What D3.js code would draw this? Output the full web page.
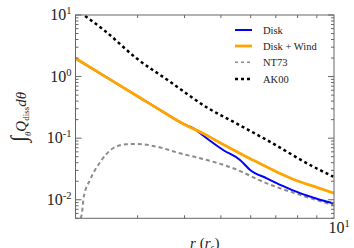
<!DOCTYPE html>
<html><head><meta charset="utf-8">
<script src="https://cdn.jsdelivr.net/npm/d3@7"></script>
<style>body{margin:0;background:#fff}svg{display:block}</style>
</head><body>
<svg id="c" width="354" height="248"></svg>
<script>
// ---- data ----
const xDomain = [2.05, 10];
const yDomain = [0.005, 10];
const diskR    = [2.05, 2.5, 3, 3.5, 4, 4.2, 4.6, 5.07, 5.62, 5.98, 6.62, 7.3, 8.12, 9, 9.96];
const diskV    = [1.98, 0.946, 0.479, 0.269, 0.167, 0.147, 0.098, 0.0643, 0.0443, 0.0305, 0.0223, 0.0168, 0.0128, 0.0104, 0.00877];
const windR    = [2.05, 2.5, 3, 3.5, 4, 4.5, 5, 6, 7, 8, 9, 10];
const windV    = [1.98, 0.946, 0.479, 0.269, 0.167, 0.118, 0.083, 0.0461, 0.0288, 0.0202, 0.0159, 0.0128];
const nt73R    = [2.113, 2.129, 2.157, 2.24, 2.39, 2.58, 2.80, 3.01, 3.37, 3.89, 4.59, 5.39, 6.62, 8.12, 9.96];
const nt73V    = [0.005, 0.00566, 0.0112, 0.0209, 0.0416, 0.0686, 0.0796, 0.0805, 0.0728, 0.0569, 0.0442, 0.0325, 0.0185, 0.0120, 0.00824];
const ak00R    = [2.05, 2.157, 2.44, 2.98, 3.66, 4.63, 5.39, 6.62, 8.81, 9.96];
const ak00V    = [12.6, 10, 5.70, 1.98, 0.826, 0.305, 0.185, 0.0936, 0.0344, 0.0237];
const legendLabels = ["Disk", "Disk + Wind", "NT73", "AK00"];
const yTickLabels = [["10","1"],["10","0"],["10","-1"],["10","-2"]];
const yTickValues = [10, 1, 0.1, 0.01];

const svg = d3.select("#c");
const L = 75.5, R = 334, T = 15, B = 218.3;
const x = d3.scaleLog().domain(xDomain).range([L, R]);
const y = d3.scaleLog().domain(yDomain).range([B, T]);
const serif = "'Liberation Serif', 'DejaVu Serif', serif";
const frameCol = "#666";

svg.append("defs").append("clipPath").attr("id","clip")
  .append("rect").attr("x",L).attr("y",T).attr("width",R-L).attr("height",B-T);

const line = d3.line().x(d=>x(d[0])).y(d=>y(d[1])).curve(d3.curveMonotoneX);
const g = svg.append("g").attr("clip-path","url(#clip)");
const series = [
  {r:nt73R, v:nt73V, color:"#8c8c8c", w:2, dash:"4,3"},
  {r:ak00R, v:ak00V, color:"#000", w:2.5, dash:"3,3"},
  {r:diskR, v:diskV, color:"#0000ff", w:2, dash:null},
  {r:windR, v:windV, color:"#ffa500", w:2.8, dash:null},
];
series.forEach(s=>{
  g.append("path").datum(s.r.map((r,i)=>[r,s.v[i]]))
   .attr("d",line).attr("fill","none").attr("stroke",s.color)
   .attr("stroke-width",s.w).attr("stroke-dasharray",s.dash);
});

// frame
svg.append("rect").attr("x",L).attr("y",T).attr("width",R-L).attr("height",B-T)
  .attr("fill","none").attr("stroke",frameCol).attr("stroke-width",1);

// ticks
const yMaj = [0.01,0.1,1,10];
const yMin = [];
for (let e=-3;e<1;e++) for (let k=2;k<10;k++){const v=k*Math.pow(10,e); if(v>=yDomain[0]&&v<=yDomain[1]) yMin.push(v);}
const tg = svg.append("g").attr("stroke",frameCol).attr("stroke-width",1);
yMaj.forEach(v=>{
  tg.append("line").attr("x1",L).attr("x2",L+6).attr("y1",y(v)).attr("y2",y(v));
  tg.append("line").attr("x1",R).attr("x2",R-6).attr("y1",y(v)).attr("y2",y(v));
});
yMin.forEach(v=>{
  tg.append("line").attr("x1",L).attr("x2",L+3).attr("y1",y(v)).attr("y2",y(v));
  tg.append("line").attr("x1",R).attr("x2",R-3).attr("y1",y(v)).attr("y2",y(v));
});
const xMin = [3,4,5,6,7,8,9];
xMin.forEach(v=>{
  tg.append("line").attr("y1",B).attr("y2",B-3).attr("x1",x(v)).attr("x2",x(v));
  tg.append("line").attr("y1",T).attr("y2",T+3).attr("x1",x(v)).attr("x2",x(v));
});

// y tick labels
yTickValues.forEach((v,i)=>{
  const t = svg.append("text").attr("x",L-4).attr("y",y(v)+5)
    .attr("text-anchor","end").attr("font-family",serif).attr("font-size",16).attr("fill","#222");
  t.append("tspan").text(yTickLabels[i][0]);
  t.append("tspan").attr("dy",-6).attr("font-size",10.5).text(yTickLabels[i][1]);
});
{
  const t = svg.append("text").attr("x",x(10)+5).attr("y",B+15)
    .attr("text-anchor","middle").attr("font-family",serif).attr("font-size",16).attr("fill","#222");
  t.append("tspan").text("10");
  t.append("tspan").attr("dy",-6).attr("font-size",10.5).text("1");
}
// x label
{
  const t = svg.append("text").attr("x",(L+R)/2).attr("y",248)
    .attr("text-anchor","middle").attr("font-family",serif).attr("font-size",15).attr("fill","#222");
  t.append("tspan").attr("font-style","italic").text("r");
  t.append("tspan").text(" (");
  t.append("tspan").attr("font-style","italic").text("r");
  t.append("tspan").attr("dy",3).attr("font-size",10).attr("font-style","italic").text("s");
  t.append("tspan").attr("dy",-3).text(")");
}
// y label
{
  const t = svg.append("text").attr("transform","translate(26,117) rotate(-90)")
    .attr("text-anchor","middle").attr("font-family",serif).attr("font-size",15).attr("fill","#222");
  t.append("tspan").attr("font-size",22).text("∫");
  t.append("tspan").attr("dy",5).attr("font-size",9).attr("font-style","italic").text("θ");
  t.append("tspan").attr("dy",-5).attr("font-style","italic").text("Q");
  t.append("tspan").attr("dy",3).attr("font-size",9).text("diss");
  t.append("tspan").attr("dy",-3).attr("font-style","italic").text("dθ");
}
// legend
const legColors = ["#0000ff","#ffa500","#8c8c8c","#000"];
const legDash = [null,null,"3,3","3,3"];
const legW = [2,2.8,1.5,2.5];
const legY = [30,46,62.3,79];
legendLabels.forEach((lab,i)=>{
  svg.append("line").attr("x1",235).attr("x2",252).attr("y1",legY[i]).attr("y2",legY[i])
    .attr("stroke",legColors[i]).attr("stroke-width",legW[i]).attr("stroke-dasharray",legDash[i]);
  svg.append("text").attr("x",263).attr("y",legY[i]+4).attr("font-family",serif)
    .attr("font-size",10.5).attr("fill","#222").text(lab);
});
</script>
</body></html>
